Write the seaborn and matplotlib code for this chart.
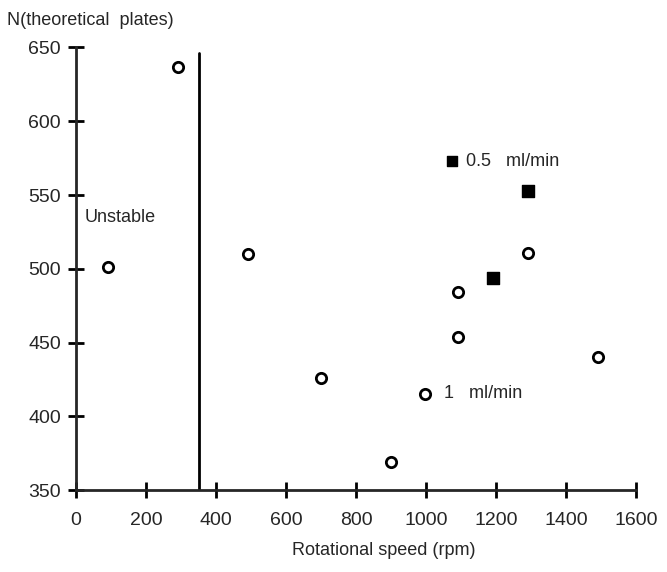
import matplotlib
matplotlib.use("Agg")
import matplotlib.pyplot as plt
import seaborn as sns
import pandas as pd

# 1 ml/min (open circles)
speed_1 = [90, 290, 490, 700, 900, 1090, 1090, 1290, 1490]
plates_1 = [501, 637, 510, 426, 369, 484, 454, 511, 440]

# 0.5 ml/min (filled squares)
speed_05 = [1190, 1290]
plates_05 = [494, 553]

x_ticks = [0, 200, 400, 600, 800, 1000, 1200, 1400, 1600]
y_ticks = [350, 400, 450, 500, 550, 600, 650]
unstable_limit = 350

df = pd.DataFrame({
    "speed": speed_1 + speed_05,
    "plates": plates_1 + plates_05,
    "flow": ["1 ml/min"] * len(speed_1) + ["0.5 ml/min"] * len(speed_05),
})

sns.set_style("ticks")
plt.rcParams["font.family"] = ["Liberation Sans", "DejaVu Sans"]

fig = plt.figure(figsize=(6.67, 5.72), dpi=100)
ax = fig.add_axes([0.114, 0.143, 0.840, 0.774])

sns.scatterplot(data=df[df.flow == "1 ml/min"], x="speed", y="plates", ax=ax,
                marker="o", s=55, facecolor="white", edgecolor="black",
                linewidth=2, zorder=3)
sns.scatterplot(data=df[df.flow == "0.5 ml/min"], x="speed", y="plates", ax=ax,
                marker="s", s=75, color="black", edgecolor="black",
                linewidth=1, zorder=3)

# instability boundary
ax.plot([unstable_limit, unstable_limit], [350, 646], color="black", lw=2)
ax.text(25, 535, "Unstable", fontsize=13, va="center", ha="left")

# in-plot legend labels
ax.scatter([997], [415.5], marker="o", s=55, facecolor="white",
           edgecolor="black", linewidth=2, zorder=3)
ax.text(1050, 415.5, "1   ml/min", fontsize=13, va="center")
ax.scatter([1075], [573], marker="s", s=60, color="black", zorder=3)
ax.text(1115, 573, "0.5   ml/min", fontsize=13, va="center")

ax.set_xlim(0, 1600)
ax.set_ylim(350, 650)
ax.set_xticks(x_ticks)
ax.set_yticks(y_ticks)
ax.set_xlabel("")
ax.set_ylabel("")
for side in ["top", "right"]:
    ax.spines[side].set_visible(False)
for side in ["left", "bottom"]:
    ax.spines[side].set_linewidth(2)
ax.tick_params(axis="both", direction="inout", length=12, width=2,
               labelsize=14, color="black")
ax.tick_params(axis="x", pad=10)
ax.tick_params(axis="y", pad=5)

fig.text(0.010, 0.965, "N(theoretical  plates)", fontsize=13, ha="left", va="center")
fig.text(0.575, 0.038, "Rotational speed (rpm)", fontsize=13, ha="center", va="center")

fig.savefig("out.png", dpi=100)
